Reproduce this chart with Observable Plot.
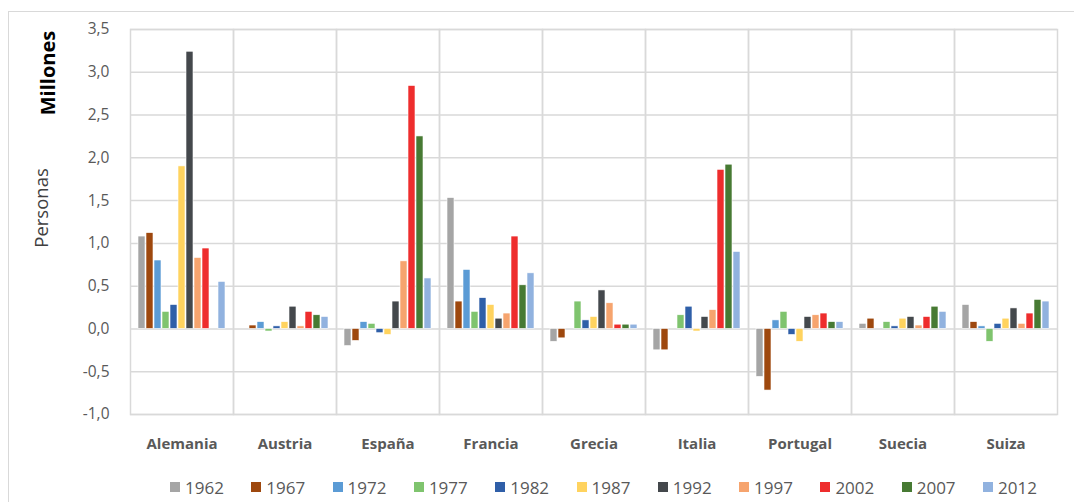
<!DOCTYPE html>
<html><head><meta charset="utf-8">
<script src="https://cdn.jsdelivr.net/npm/d3@7"></script>
<script src="https://cdn.jsdelivr.net/npm/@observablehq/plot@0.6"></script>
<style>
body{margin:0;background:#fff;font-family:"Open Sans",sans-serif;}
#frame{position:absolute;left:8px;top:11px;width:1080px;height:520px;border:1.5px solid #d9d9d9;box-sizing:border-box;}
#chart{position:absolute;left:0;top:0;}
#legend{position:absolute;left:0;top:474px;width:1074px;height:26px;}
.li{position:absolute;top:0;display:flex;align-items:center;height:26px;font-family:"Liberation Sans Narrow","Open Sans",sans-serif;font-size:17px;color:#595959;}
.sw{width:10px;height:10px;margin-right:5px;}
.ylab{position:absolute;transform:rotate(-90deg);transform-origin:center;white-space:nowrap;color:#404040;line-height:22px;height:22px;}
</style></head>
<body>
<div id="frame"></div>
<div id="chart"></div>
<div id="legend"></div>
<script>
const countries = ["Alemania","Austria","España","Francia","Grecia","Italia","Portugal","Suecia","Suiza"];
const years = ["1962","1967","1972","1977","1982","1987","1992","1997","2002","2007","2012"];
const colors = ["#a5a5a5","#9e480e","#5b9bd5","#7fc46e","#2f5fa8","#ffd35f","#44484c","#f6a46e","#ee2d2d","#477a33","#91b2df"];
// values in millions, per country, in year order
const alemania = [1.08,1.12,0.80,0.20,0.28,1.90,3.24,0.83,0.94,0,0.55];
const austria  = [0,0.04,0.08,-0.03,0.03,0.08,0.26,0.03,0.20,0.16,0.14];
const espana   = [-0.20,-0.14,0.08,0.06,-0.05,-0.07,0.32,0.79,2.84,2.25,0.59];
const francia  = [1.53,0.32,0.69,0.20,0.36,0.28,0.12,0.18,1.08,0.51,0.65];
const grecia   = [-0.15,-0.11,0,0.32,0.10,0.14,0.45,0.30,0.05,0.05,0.05];
const italia   = [-0.25,-0.25,0,0.16,0.26,-0.03,0.14,0.22,1.86,1.92,0.90];
const portugal = [-0.56,-0.72,0.10,0.20,-0.07,-0.15,0.14,0.16,0.18,0.08,0.08];
const suecia   = [0.06,0.12,0,0.08,0.03,0.12,0.14,0.04,0.14,0.26,0.20];
const suiza    = [0.28,0.08,0.03,-0.15,0.06,0.12,0.24,0.06,0.18,0.34,0.32];
const yTicks = [-1,-0.5,0,0.5,1,1.5,2,2.5,3,3.5];

const series = [alemania,austria,espana,francia,grecia,italia,portugal,suecia,suiza];
const data = [];
countries.forEach((c,i)=>years.forEach((y,j)=>{ if(series[i][j]!==0) data.push({country:c,year:y,value:series[i][j]}); }));
const fmt = d => d.toFixed(1).replace(".",",");

const plot = Plot.plot({
  width:1074, height:466,
  marginLeft:126, marginRight:14, marginTop:29, marginBottom:52,
  style:{fontFamily:"Open Sans, sans-serif"},
  fx:{domain:countries, padding:0, label:null, axis:null},
  x:{domain:years, axis:null, paddingInner:0.12, paddingOuter:0.7},
  y:{domain:[-1,3.5], ticks:yTicks, label:null, tickFormat:fmt, axis:null},
  color:{domain:years, range:colors},
  marks:[
    Plot.ruleY(yTicks,{stroke:"#d9d9d9", strokeWidth:1.5}),
    Plot.frame({stroke:"#d9d9d9", strokeWidth:1.5}),
    Plot.barY(data,{fx:"country", x:"year", y:"value", fill:"year", stroke:"white", strokeWidth:0.6}),
    Plot.axisY({ticks:yTicks, tickFormat:fmt, tickSize:0, tickPadding:21, fontSize:15.5, fill:"#595959", label:null}),
    Plot.axisFx({anchor:"bottom", tickSize:0, tickPadding:24, fontSize:15, fontWeight:"bold", fill:"#595959", label:null})
  ]
});
document.getElementById("chart").appendChild(plot);

const leg = document.getElementById("legend");
years.forEach((y,i)=>{
  const d = document.createElement("div");
  d.className="li";
  d.style.left = (170 + i*81.3) + "px";
  d.innerHTML = `<div class="sw" style="background:${colors[i]}"></div>${y}`;
  leg.appendChild(d);
});
const m = document.createElement("div"); m.className="ylab"; m.textContent="Millones";
m.style.fontWeight="bold"; m.style.color="#000"; m.style.fontSize="20px"; m.style.width="120px"; m.style.textAlign="center";
m.style.left=(48-60)+"px"; m.style.top=(73-11)+"px";
document.body.appendChild(m);
const p = document.createElement("div"); p.className="ylab"; p.textContent="Personas";
p.style.fontSize="18.5px"; p.style.width="120px"; p.style.textAlign="center";
p.style.left=(41-60)+"px"; p.style.top=(208-11)+"px";
document.body.appendChild(p);
</script>
</body></html>
